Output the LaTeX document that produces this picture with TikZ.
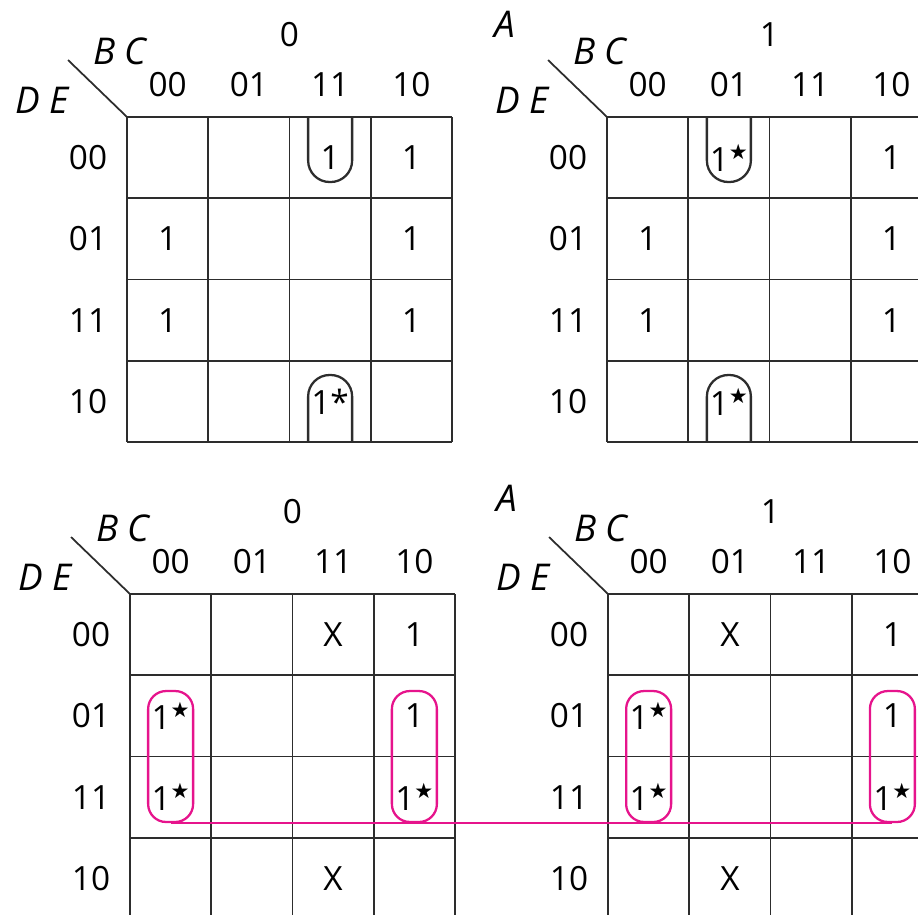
\documentclass[tikz,border=0pt]{standalone}
\usepackage{fontspec}
\setmainfont{Open Sans}
\newfontfamily\starfont{DejaVu Sans}
\usetikzlibrary{calc}
\definecolor{ink}{RGB}{45,45,45}
\definecolor{grpmag}{RGB}{230,20,140}
\newcommand{\ess}{\raisebox{0.36em}{\starfont\fontsize{12}{12}\selectfont ★}}

\begin{document}
\begin{tikzpicture}[x=0.02cm, y=-0.02cm,
    gline/.style={draw=ink, line width=1pt},
    ubox/.style={draw=ink, line width=1.3pt, rounded corners=0.43cm},
    grp/.style={rectangle, draw=grpmag, line width=1.3pt, rounded corners=0.36cm,
                minimum width=0.9cm, minimum height=2.62cm, inner sep=0pt},
    grpline/.style={draw=grpmag, line width=1.3pt},
    ent/.style={font=\fontsize{19}{22}\selectfont, inner sep=0pt},
    var/.style={font=\fontsize{21}{24}\selectfont\itshape, inner sep=0pt}]
  \useasboundingbox (0,0) rectangle (918,914);
  \clip (0,0) rectangle (918,914);
  \def\s{81.25}
  % --- the four maps: grid, headings and the corner split -----------------
  \foreach \m/\cx/\cy/\v in {tl/127/117/0, tr/607/117/1, bl/130/594/0, br/608/594/1} {
    \begin{scope}[shift={(\cx,\cy)}]
      \foreach \i in {0,...,4} {
        \draw[gline] ({\i*\s},0) -- ({\i*\s},{4*\s});
        \draw[gline] (0,{\i*\s}) -- ({4*\s},{\i*\s}); }
      \foreach \c in {0,...,3} { \foreach \r in {0,...,3} {
        \coordinate (\m-\c\r) at ({(\c+0.5)*\s},{(\r+0.5)*\s}); } }
      \foreach \g [count=\k from 0] in {00,01,11,10} {
        \node[ent] (\m-col\k) at ({(\k+0.5)*\s},-32) {\g};
        \node[ent] (\m-row\k) at (-39,{(\k+0.5)*\s}) {\g}; }
      \coordinate (\m-o) at (0,0);
      \coordinate (\m-k) at (-59,-57);
      \draw[gline] (\m-k) -- (\m-o);
      \node[var] (\m-bc) at (-7,-66) {B C};
      \node[var] (\m-de) at (-85,-17) {D E};
      \node[ent] (\m-val) at ({2*\s},-82) {\v};
    \end{scope} }
  \node[var] (tr-a) at (505,24)  {A};
  \node[var] (br-a) at (507,498) {A};
  % --- cell entries ---------------------------------------------------------
  \foreach \p/\t [count=\n] in {tl-20/1, tl-30/1, tl-01/1, tl-31/1, tl-02/1, tl-32/1, tl-23/{1*},
      tr-10/{1\ess}, tr-30/1, tr-01/1, tr-31/1, tr-02/1, tr-32/1, tr-13/{1\ess},
      bl-20/X, bl-30/1, bl-01/{1\ess}, bl-31/1, bl-02/{1\ess}, bl-32/{1\ess}, bl-23/X,
      br-10/X, br-30/1, br-01/{1\ess}, br-31/1, br-02/{1\ess}, br-32/{1\ess}, br-13/X} {
    \node[ent] (e\n) at (\p) {\t}; }
  % --- wrap-round groups, top and bottom edge -------------------------------
  \foreach \p in {tl-20, tr-10} {
    \draw[ubox] (\p) ++(-22,-40.6) -- ++(0,65) -- ++(44,0) -- ++(0,-65); }
  \foreach \p in {tl-23, tr-13} {
    \draw[ubox] (\p) ++(-22,40.6) -- ++(0,-67) -- ++(44,0) -- ++(0,67); }
  % --- the one group over both maps ----------------------------------------
  \node[grp] (g1) at ($(bl-01)!0.5!(bl-02)$) {};
  \node[grp] (g2) at ($(bl-31)!0.5!(bl-32)$) {};
  \node[grp] (g3) at ($(br-01)!0.5!(br-02)$) {};
  \node[grp] (g4) at ($(br-31)!0.5!(br-32)$) {};
  \draw[grpline] (g1.south) -- (g4.south);
\end{tikzpicture}
\end{document}
